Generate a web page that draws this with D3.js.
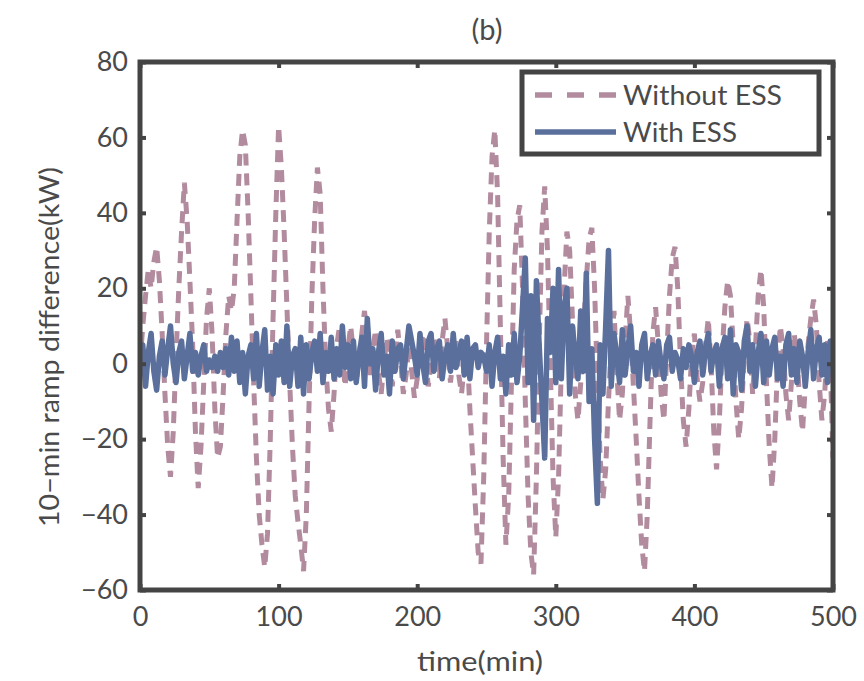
<!DOCTYPE html>
<html>
<head>
<meta charset="utf-8">
<script src="https://cdn.jsdelivr.net/npm/d3@7"></script>
<style>
  body { margin: 0; background: #fff; }
  text { font-family: Lato, "Open Sans", sans-serif; fill: #4a4a4a; }
</style>
</head>
<body>
<svg id="chart" width="864" height="681"></svg>
<script>
// time axis, minutes (one sample every 2 min)
var time = d3.range(0, 501, 2);

// 10-min ramp difference without storage (kW)
var withoutESS = [
  0, 10, 18, 25, 20, 27, 31, 22, 8, -8, -22, -30, -18, 2, 20, 35, 48, 38, 22, 5,
  -18, -33, -22, -5, 12, 20, 8, -12, -25, -22, -8, 8, 18, 14, 20, 38, 55, 62, 58, 40,
  18, -5, -25, -40, -48, -54, -45, -20, 12, 40, 63, 52, 35, 15, -5, -22, -35, -42, -48, -55,
  -40, -10, 18, 38, 52, 45, 20, 0, -12, -18, -8, 5, 10, 2, -6, 4, 10, 3, -5, 2,
  8, 14, 6, -3, 4, 9, -2, -8, 0, 7, 3, -6, 2, 9, 1, -8, -3, 5, -2, -9,
  -4, 3, 8, 2, -6, 0, 7, 2, -4, 6, 12, 4, -5, 2, 6, -3, -8, 0, 4, -12,
  -25, -38, -50, -53, -30, 5, 35, 55, 62, 45, 10, -25, -48, -35, -5, 25, 38, 42, 20, -10,
  -35, -50, -56, -30, 5, 35, 47, 30, 0, -30, -46, -30, 0, 20, 35, 30, 12, -8, -15, -5,
  10, 22, 33, 36, 20, -5, -25, -36, -28, -10, 5, 14, -2, -15, -8, 6, 18, 8, -6, -20,
  -35, -48, -55, -40, -15, 8, 15, 5, -8, -15, 2, 18, 28, 31, 20, 0, -15, -22, -12, 2,
  8, -4, -10, -5, 5, 12, 0, -18, -28, -15, 3, 15, 22, 18, 5, -10, -20, -12, 2, 12,
  6, -8, 4, 18, 25, 15, -5, -22, -33, -20, 0, 10, 4, -8, -15, -5, 8, 2, -10, -18,
  -6, 5, 12, 17, 10, -5, -15, -8, 6, 0, -25
];

// 10-min ramp difference with storage (kW)
var withESS = [
  0, 5, -6, 3, 8, -2, -7, 2, 6, -3, 4, 10, 0, -5, 3, 6, -4, 2, 8, -2,
  3, -3, 2, 5, -2, 1, -1, 2, -2, 3, -1, 4, -3, 7, -2, 6, -5, 3, -8, 2,
  5, -4, 8, -6, 3, 9, -7, 2, -8, 5, -3, 6, -5, 10, -6, 2, 4, -6, 7, -8,
  5, -4, 3, 6, -2, 8, -5, 3, -2, 7, -4, 4, -3, 10, -1, 5, -4, 6, -5, 2,
  7, -6, 12, 0, 4, -7, 3, 8, -3, 2, -8, 6, -2, 4, 5, -4, 3, 10, 6, 2,
  -3, 8, 0, -5, 6, 8, -2, 4, 6, -4, 2, 5, -2, 8, -1, 3, 6, -3, 7, -4,
  4, 5, -1, 3, 2, -2, 5, -6, 3, 7, -4, 2, -8, 5, -3, 8, -5, 2, 15, 28,
  -5, 18, -15, 22, 5, -10, -25, 12, 3, 20, -5, 25, -4, 15, 20, -8, 10, 2, -4, 14,
  -2, 24, -10, 4, -20, -37, 5, -8, 10, 30, -6, 8, 2, -5, 9, -3, 4, 10, -2, 3,
  -6, 5, 8, -4, 2, 5, -3, 6, 0, -4, 5, 7, -2, 3, 1, -4, 4, -1, 5, 2,
  -5, 3, 6, -3, 4, 8, -2, 3, 5, -6, 4, 7, -4, 9, -8, 5, 3, -7, 6, 10,
  -2, 5, -6, 3, 8, -5, 6, -3, 4, 7, -4, 2, -6, 5, 8, -3, 4, -5, 6, 2,
  -6, 3, 9, -4, 4, 7, -3, 5, -5, 6, 3
];

var xTicks = [0, 100, 200, 300, 400, 500];
var yTicks = [-60, -40, -20, 0, 20, 40, 60, 80];

var pink = "#b28c9e", blue = "#5a6f9b", frame = "#444";

var m = { left: 140, right: 833, top: 62, bottom: 590 };
var svg = d3.select("#chart");

var x = d3.scaleLinear().domain([0, 500]).range([m.left, m.right]);
var y = d3.scaleLinear().domain([-60, 80]).range([m.bottom, m.top]);

svg.append("clipPath").attr("id", "clip")
  .append("rect").attr("x", m.left).attr("y", m.top)
  .attr("width", m.right - m.left).attr("height", m.bottom - m.top);

var line = function (vals) {
  return d3.line().x(function (d, i) { return x(time[i]); }).y(function (d) { return y(d); })(vals);
};

var plot = svg.append("g").attr("clip-path", "url(#clip)");
plot.append("path").attr("d", line(withoutESS))
  .attr("fill", "none").attr("stroke", pink).attr("stroke-width", 5)
  .attr("stroke-dasharray", "12,8");
plot.append("path").attr("d", line(withESS))
  .attr("fill", "none").attr("stroke", blue).attr("stroke-width", 5.5)
  .attr("stroke-linejoin", "round");

// axes (ticks inside, mirrored)
function styleAxis(g) {
  g.select(".domain").remove();
  g.selectAll(".tick line").attr("stroke", frame).attr("stroke-width", 4);
  g.selectAll(".tick text").style("font-size", "27px").attr("fill", "#4a4a4a");
}
svg.append("g").attr("transform", "translate(0," + m.bottom + ")")
  .call(d3.axisBottom(x).tickValues(xTicks).tickSizeInner(-6).tickPadding(17))
  .call(styleAxis);
svg.append("g").attr("transform", "translate(0," + m.top + ")")
  .call(d3.axisTop(x).tickValues(xTicks).tickSizeInner(-6).tickFormat(""))
  .call(styleAxis);
svg.append("g").attr("transform", "translate(" + m.left + ",0)")
  .call(d3.axisLeft(y).tickValues(yTicks).tickSizeInner(-6).tickPadding(12)
    .tickFormat(function (d) { return d < 0 ? "\u2212" + (-d) : d; }))
  .call(styleAxis);
svg.append("g").attr("transform", "translate(" + m.right + ",0)")
  .call(d3.axisRight(y).tickValues(yTicks).tickSizeInner(-6).tickFormat(""))
  .call(styleAxis);

svg.append("rect").attr("x", m.left).attr("y", m.top)
  .attr("width", m.right - m.left).attr("height", m.bottom - m.top)
  .attr("fill", "none").attr("stroke", frame).attr("stroke-width", 5);

// labels
svg.append("text").attr("x", 487).attr("y", 40).attr("text-anchor", "middle")
  .style("font-size", "29px").text("(b)");
svg.append("text").attr("x", 480).attr("y", 671).attr("text-anchor", "middle")
  .style("font-size", "27px").attr("textLength", 126).attr("lengthAdjust", "spacingAndGlyphs")
  .text("time(min)");
svg.append("text").attr("transform", "translate(59,347) rotate(-90)")
  .attr("text-anchor", "middle").style("font-size", "27px")
  .attr("textLength", 360).attr("lengthAdjust", "spacingAndGlyphs")
  .text("10\u2212min ramp difference(kW)");

// legend
var lg = svg.append("g");
lg.append("rect").attr("x", 522).attr("y", 72).attr("width", 297).attr("height", 82)
  .attr("fill", "#fff").attr("stroke", frame).attr("stroke-width", 5);
var items = [
  { name: "Without ESS", color: pink, dash: "17,15", len: 159 },
  { name: "With ESS", color: blue, dash: null, len: 114 }
];
items.forEach(function (it, i) {
  var yy = 95 + i * 37;
  lg.append("line").attr("x1", 535).attr("x2", 616).attr("y1", yy).attr("y2", yy)
    .attr("stroke", it.color).attr("stroke-width", 5.5)
    .attr("stroke-dasharray", it.dash);
  lg.append("text").attr("x", 623).attr("y", yy + 10)
    .style("font-size", "26px").attr("textLength", it.len).attr("lengthAdjust", "spacingAndGlyphs")
    .text(it.name);
});
</script>
</body>
</html>
